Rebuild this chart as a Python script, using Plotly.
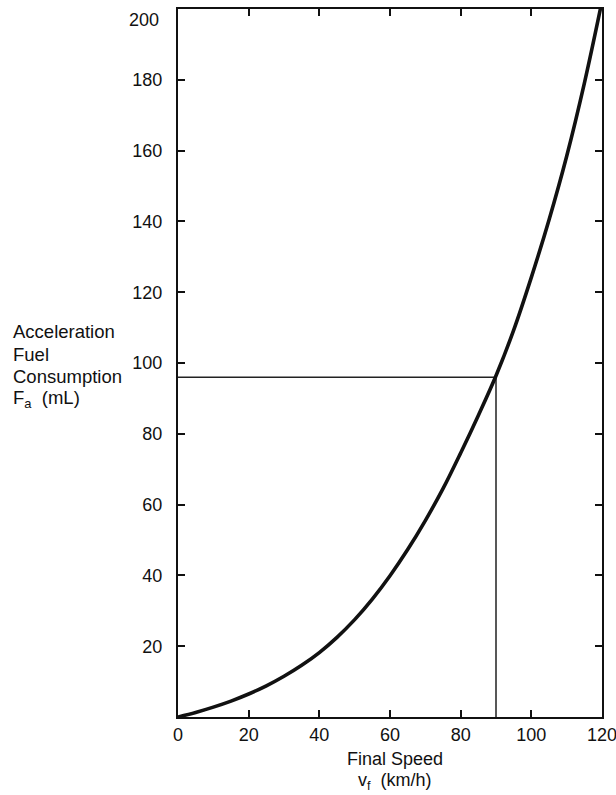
import plotly.graph_objects as go

# Final speed (km/h) and acceleration fuel consumption (mL)
speed = [0, 5, 10, 15, 20, 25, 30, 35, 40, 45, 50, 55, 60, 65, 70, 75, 80, 85, 90, 95, 100, 105, 110, 115, 120]
fuel = [0, 1.3, 2.8, 4.5, 6.5, 8.8, 11.5, 14.6, 18.2, 22.5, 27.5, 33.3, 39.9, 47.3, 55.5, 64.5,
        74.6, 85.2, 96.4, 109.3, 124.2, 140.4, 158.4, 179.0, 202.2]

# Reading guide at 90 km/h
guide_speed = [0, 90, 90]
guide_fuel = [96, 96, 0]

x_ticks = [0, 20, 40, 60, 80, 100, 120]
x_tick_labels = ["0", "20", "40", "60", "80", "100", "120"]
y_ticks = [20, 40, 60, 80, 100, 120, 140, 160, 180, 200]
y_tick_labels = ["20", "40", "60", "80", "100", "120", "140", "160", "180", "200"]

FONT = "Liberation Sans, Arial, sans-serif"
L, R, T, B = 178, 14, 9, 78
W, H = 616, 795
PW, PH = W - L - R, H - T - B


def px(xp):
    return (xp - L) / PW


def py(yp):
    return (H - B - yp) / PH


fig = go.Figure()
fig.add_trace(go.Scatter(x=guide_speed, y=guide_fuel, mode="lines",
                         line=dict(color="#222", width=1.5), showlegend=False, hoverinfo="skip"))
fig.add_trace(go.Scatter(x=speed, y=fuel, mode="lines",
                         line=dict(color="#111", width=3.6, shape="spline"), showlegend=False))

axis_common = dict(showgrid=False, zeroline=False, showline=True, linecolor="#111", linewidth=2,
                   ticks="inside", ticklen=7, tickwidth=2, tickcolor="#111", mirror="ticks",
                   automargin=False, ticklabeloverflow="allow",
                   tickfont=dict(family=FONT, size=18, color="#111"))

fig.update_xaxes(range=[0, 120], tickvals=x_ticks, ticktext=x_tick_labels, **axis_common)
# the top label (200) sits a little below its tick in the original; drawn separately below
fig.update_yaxes(range=[0, 200], tickvals=y_ticks, ticktext=y_tick_labels[:-1] + [""],
                 ticklabelstandoff=10, **axis_common)
fig.add_annotation(text=y_tick_labels[-1], xref="paper", yref="paper", x=px(161), y=py(20),
                   xanchor="right", yanchor="middle", showarrow=False,
                   font=dict(family=FONT, size=18, color="#111"))

ylab_lines = [("Acceleration", 331), ("Fuel", 354), ("Consumption", 376), ("F<sub>a</sub>  (mL)", 399)]
for txt, ypix in ylab_lines:
    fig.add_annotation(text=txt, xref="paper", yref="paper", x=px(11), y=py(ypix),
                       xanchor="left", yanchor="middle", align="left", showarrow=False,
                       font=dict(family=FONT, size=18.5, color="#111"))

xlab_lines = [("Final Speed", 759), ("v<sub>f</sub>  (km/h)", 781)]
for txt, ypix in xlab_lines:
    fig.add_annotation(text=txt, xref="paper", yref="paper", x=px(395), y=py(ypix),
                       xanchor="center", yanchor="middle", align="center", showarrow=False,
                       font=dict(family=FONT, size=18, color="#111"))

fig.update_layout(width=W, height=H, margin=dict(l=L, r=R, t=T, b=B),
                  plot_bgcolor="white", paper_bgcolor="white",
                  font=dict(family=FONT, color="#111"))

fig.write_html("out.html", config={"displayModeBar": False},
               post_script="document.body.style.margin='0px';")
